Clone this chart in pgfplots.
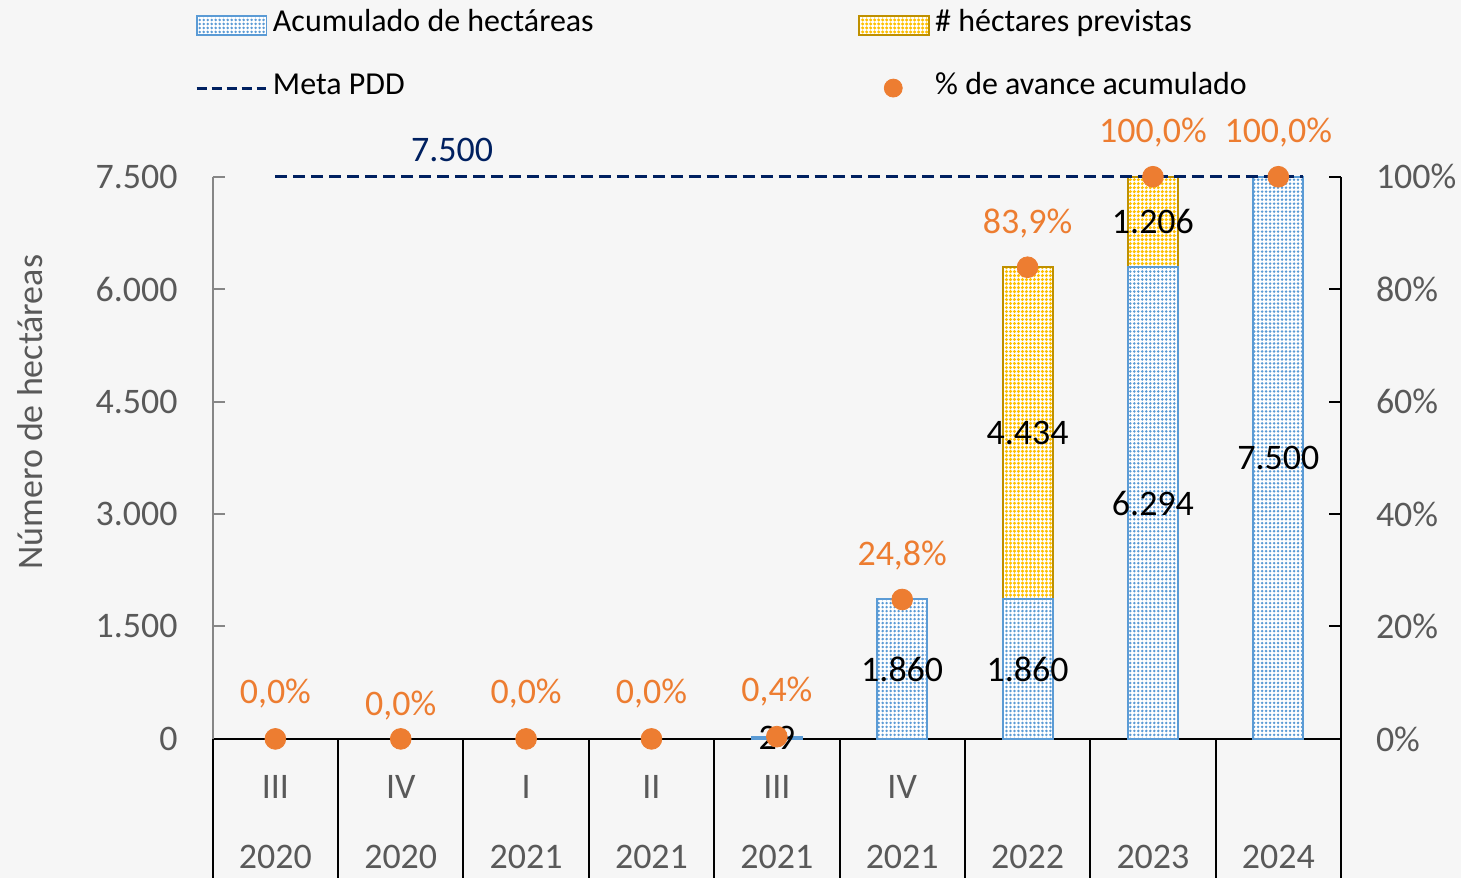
\documentclass[border=0pt]{standalone}
\usepackage{fontspec}
\setmainfont{Carlito}
\usepackage{pgfplots}
\pgfplotsset{compat=1.18}
\usepackage{pgfplotstable}
\usetikzlibrary{patterns.meta}
\definecolor{cBlue}{RGB}{91,155,213}
\definecolor{cYel}{RGB}{255,192,0}
\definecolor{cYelE}{RGB}{191,144,0}
\definecolor{cOr}{RGB}{237,125,49}
\definecolor{cNavy}{RGB}{0,32,96}
\definecolor{cTxt}{RGB}{89,89,89}
\definecolor{cAx}{RGB}{134,134,134}
\definecolor{cBg}{RGB}{246,246,246}
\newcommand\fsA{\fontsize{18}{21.6}\selectfont}
\newcommand\fsB{\fontsize{16}{19.2}\selectfont}

\pgfplotstableread{
x a
4 29
5 1860
6 1860
7 6294
8 7500
}\bluetab
\pgfplotstableread{
x t d
6 6294 4434
7 7500 1206
}\yeltab
\pgfplotstableread{
x p off
0 0 22.5
1 0 16.5
2 0 22.5
3 0 22.5
4 0.4 22.5
5 24.8 22
6 83.9 22
7 100 22
8 100 22
}\pcttab

\begin{document}
\begin{tikzpicture}
\fill[cBg] (-106.5pt,-69.5pt) rectangle (625pt,370pt);
\begin{axis}[
  scale only axis, width=565pt, height=281.5pt,
  xmin=-0.5, xmax=8.5, ymin=0, ymax=7500,
  clip=false,
  axis y line*=left, axis x line*=bottom,
  y axis line style={cAx, line width=1pt},
  x axis line style={black, line width=1pt},
  ytick={0,1500,...,7500},
  ytick style={cAx, line width=1pt},
  major tick length=6pt,
  tick align=inside,
  /pgf/number format/.cd, 1000 sep={.}, assume math mode=true, /pgfplots/.cd,
  scaled y ticks=false,
  tick label style={font=\fsA, text=cTxt},
  yticklabel style={xshift=-14pt},
  xtick={0,...,8},
  xticklabels={III,IV,I,II,III,IV,{},{},{}},
  xticklabel style={anchor=base, yshift=-29.75pt, inner sep=1pt},
  xtick style={draw=none},
  ylabel={Número de hectáreas},
  ylabel style={at={(axis description cs:-0.162,0.581)}, anchor=center, font=\fsA, text=cTxt},
  legend columns=2,
  legend cell align=left,
  legend style={at={(0,1)}, anchor=north west, xshift=-9pt, yshift=82pt,
    draw=none, fill=none, inner sep=0pt, font=\fsB, row sep=19.4pt,
    nodes={inner sep=1.5pt, text height=0.75em, text depth=0.15em},
    /tikz/every odd column/.append style={column sep=1pt},
    /tikz/every even column/.append style={column sep=131pt}},
]
\addlegendimage{legend image code/.code={
  \fill[white] (0pt,-4.75pt) rectangle (35pt,4.75pt);
  \draw[cBlue, line width=1pt, pattern={Dots[distance=2pt,radius=0.7pt]}, pattern color=cBlue] (0pt,-4.75pt) rectangle (35pt,4.75pt);}}
\addlegendentry{Acumulado de hectáreas}
\addlegendimage{legend image code/.code={
  \fill[white] (0pt,-4.75pt) rectangle (35pt,4.75pt);
  \draw[cYelE, line width=1pt, pattern={Dots[distance=2pt,radius=0.85pt]}, pattern color=cYel] (0pt,-4.75pt) rectangle (35pt,4.75pt);}}
\addlegendentry{\# héctares previstas}
\addlegendimage{legend image code/.code={
  \draw[cNavy, line width=1.5pt, dash pattern=on 5pt off 2.5pt] (0pt,0pt) -- (35pt,0pt);}}
\addlegendentry{Meta PDD}
\addlegendimage{legend image code/.code={
  \path (0pt,0pt) (35pt,0pt);
  \fill[cOr] (17pt,0pt) circle (4.5pt);}}
\addlegendentry{\% de avance acumulado}

% yellow bars (drawn as totals; label = increment)
\addplot[forget plot, ybar, bar width=25pt, bar shift=0pt, fill=white, draw=none]
  table[x=x,y=t]{\yeltab};
\addplot[forget plot, ybar, bar width=25pt, bar shift=0pt, draw=cYelE, line width=1pt,
  pattern={Dots[distance=2pt,radius=0.85pt]}, pattern color=cYel,
  point meta=explicit,
  nodes near coords={\pgfmathprintnumber{\pgfplotspointmeta}},
  visualization depends on={\thisrow{d}\as\myd},
  every node near coord/.append style={anchor=center, font=\fsA, text=black,
    shift={(axis direction cs:0,-\myd/2)}}]
  table[x=x,y=t,meta=d]{\yeltab};
% blue bars
\addplot[forget plot, ybar, bar width=25pt, bar shift=0pt, fill=white, draw=none]
  table[x=x,y=a]{\bluetab};
\addplot[forget plot, ybar, bar width=25pt, bar shift=0pt, draw=cBlue, line width=1pt,
  pattern={Dots[distance=2pt,radius=0.7pt]}, pattern color=cBlue,
  point meta=explicit,
  nodes near coords={\pgfmathprintnumber{\pgfplotspointmeta}},
  visualization depends on={\thisrow{a}\as\myh},
  every node near coord/.append style={anchor=center, font=\fsA, text=black,
    shift={(axis direction cs:0,-\myh/2)}}]
  table[x=x,y=a,meta=a]{\bluetab};
% meta line
\addplot[forget plot, cNavy, line width=1.5pt, dash pattern=on 6pt off 3pt]
  coordinates {(0,7500) (8.2,7500)};
\node[text=cNavy, font=\fsA, anchor=center, yshift=13.5pt] at (axis cs:1.41,7500) {7.500};
% category separators
\pgfplotsinvokeforeach{-0.5,0.5,1.5,2.5,3.5,4.5,5.5,6.5,7.5,8.5}{
  \draw[black, line width=1pt] (axis cs:#1,0) -- ++(0pt,-69.5pt);
}
\end{axis}
\begin{axis}[
  scale only axis, width=565pt, height=281.5pt,
  xmin=-0.5, xmax=8.5, ymin=0, ymax=100, clip=false,
  axis y line*=right, axis x line*=bottom,
  x axis line style={draw=none},
  y axis line style={black, line width=1pt},
  ytick={0,20,...,100},
  yticklabel={\pgfmathprintnumber{\tick}\%},
  ytick style={black, line width=1pt},
  major tick length=6pt, tick align=inside,
  xtick={0,...,8},
  xticklabels={2020,2020,2021,2021,2021,2021,2022,2023,2024},
  xtick style={draw=none},
  xticklabel style={anchor=base, yshift=-64.75pt, inner sep=1pt},
  tick label style={font=\fsA, text=cTxt},
  /pgf/number format/assume math mode=true,
  yticklabel style={xshift=14pt},
]
\addplot[only marks, mark=*, mark size=5.2pt, color=cOr,
  point meta=y,
  nodes near coords={\pgfmathprintnumber[fixed,fixed zerofill,precision=1,use comma]{\pgfplotspointmeta}\%},
  visualization depends on={\thisrow{off}\as\myoff},
  every node near coord/.append style={anchor=center, yshift=\myoff pt, font=\fsA, text=cOr}]
  table[x=x,y=p]{\pcttab};
\end{axis}
\end{tikzpicture}
\end{document}
